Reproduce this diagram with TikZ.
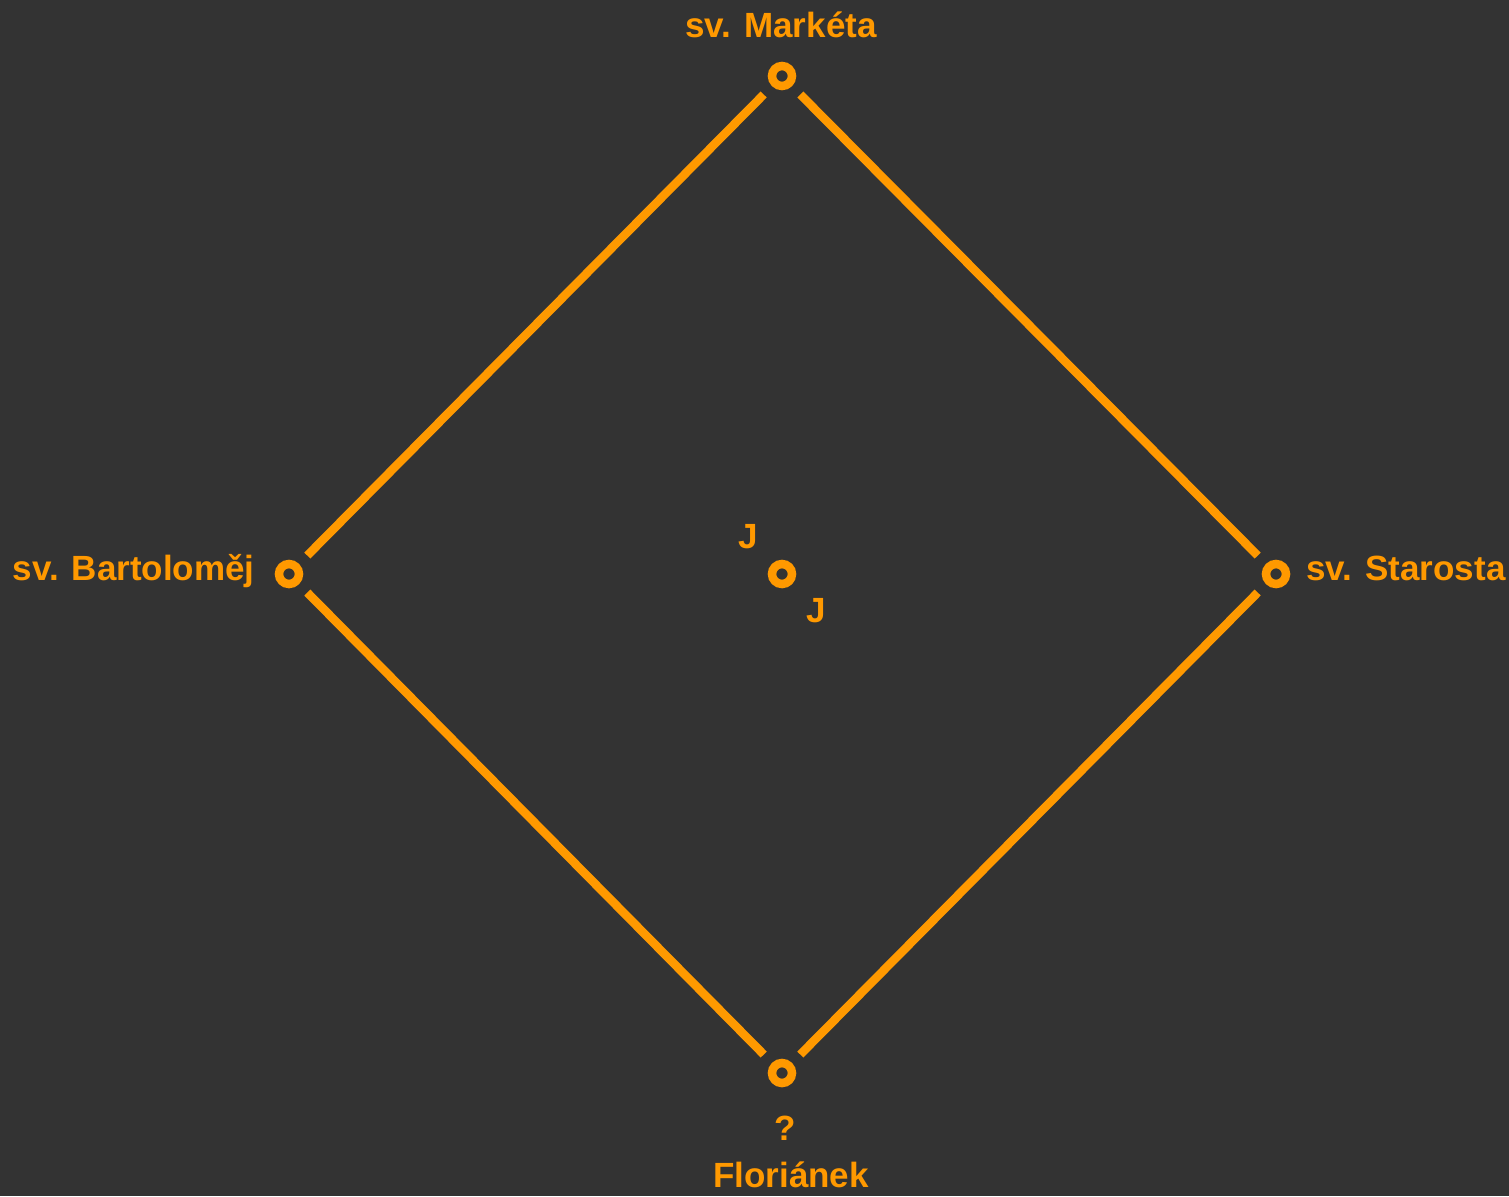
\documentclass[tikz,border=0pt]{standalone}
\usepackage{fontspec}
\setmainfont{Liberation Sans}
\usetikzlibrary{positioning}
\definecolor{bgdark}{RGB}{51,51,51}
\definecolor{tram}{RGB}{255,153,0}

\begin{document}
\begin{tikzpicture}[
  x=0.5pt, y=-0.5pt,
  every node/.style={font=\bfseries\fontsize{17.5pt}{21pt}\selectfont, text=tram},
  station/.style={circle, draw=tram, line width=4.25pt, minimum size=10pt,
               inner sep=0pt, outer sep=0pt},
  track/.style={draw=tram, line width=4.25pt, shorten <=8pt, shorten >=8pt}
]

\fill[bgdark] (0,0) rectangle (1509,1196);
\useasboundingbox (0,0) rectangle (1509,1196);

\node[station] (marketa) at (782, 76) {};
\node[station] (bartolomej) at (289, 574) {};
\node[station] (starosta) at (1276, 574) {};
\node[station] (florianek) at (782, 1073) {};
\node[station] (stred) at (782, 574) {};

\draw[track] (marketa) -- (starosta);
\draw[track] (starosta) -- (florianek);
\draw[track] (florianek) -- (bartolomej);
\draw[track] (bartolomej) -- (marketa);

\node[anchor=base] (l-marketa) at (781, 37) {sv. Markéta};
\node[anchor=base east, inner sep=0pt] (l-bartolomej) at (255, 580) {sv. Bartoloměj};
\node[anchor=base west, inner sep=0pt] (l-starosta) at (1306, 580) {sv. Starosta};
\node[anchor=base] (l-otaznik) at (785, 1140) {?};
\node[anchor=base] (l-florianek) at (791, 1187) {Floriánek};
\node[anchor=base] (l-j1) at (748, 548) {J};
\node[anchor=base] (l-j2) at (816, 622) {J};

\end{tikzpicture}
\end{document}
